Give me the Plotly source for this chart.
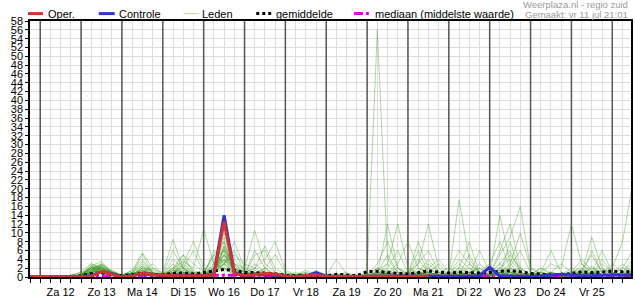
import plotly.graph_objects as go
import pandas as pd

# ---------------- data ----------------
start_time = "2025-07-11 18:00"
n_steps = 60  # 6-hourly steps
day_labels = ["Za 12", "Zo 13", "Ma 14", "Di 15", "Wo 16", "Do 17", "Vr 18",
              "Za 19", "Zo 20", "Ma 21", "Di 22", "Wo 23", "Do 24", "Vr 25"]
day_noons = pd.date_range("2025-07-12 12:00", periods=14, freq="D")
midnights = pd.date_range("2025-07-12 00:00", periods=15, freq="D")
x_range = ["2025-07-11 18:00", "2025-07-26 11:00"]
y_max = 58

oper = [0, 0, 0, 0, 0,
        0.1, 0.1, 1.3, 0.6,
        0, 0.2, 0.9, 0.5,
        0.4, 0.3, 0.2, 0.3,
        0.3, 0.5, 12.5, 0.8,
        0.3, 0.5, 0.8, 0.7,
        0.2, 0.1, 0.3, 0.5,
        0.1, 0.1, 0.2, 0.1,
        0.1, 0.2, 0.1, 0.1,
        0.1, 0.1, 0.1]

controle = [0, 0, 0, 0, 0,
            0.1, 0.3, 1.2, 0.8,
            0, 0.3, 0.8, 0.5,
            0.3, 0.3, 0.2, 0.3,
            0.3, 0.5, 14.0, 1.0,
            0.3, 0.5, 0.6, 0.5,
            0.2, 0.1, 0.2, 1.0,
            0.2, 0.1, 0.1, 0.1,
            0.1, 0.1, 0.1, 0.1,
            0.1, 0.1, 0.1, 0.1,
            0.1, 0.1, 0.1, 0.3,
            2.2, 0.2, 0.1, 0.1,
            0.1, 0.2, 0.4, 0.6,
            0.4, 0.3, 0.3, 0.4,
            0.5, 0.4, 0.5]

gemiddelde = [0, 0, 0, 0, 0.1,
              0.3, 0.8, 0.9, 0.5,
              0.3, 0.5, 0.9, 0.6,
              0.5, 0.8, 0.9, 0.7,
              1.0, 1.4, 1.7, 1.5,
              1.0, 1.0, 0.9, 0.7,
              0.4, 0.3, 0.4, 0.3,
              0.3, 0.6, 0.4, 0.3,
              1.2, 1.3, 1.0, 0.8,
              0.7, 1.0, 1.4, 1.1,
              0.9, 1.1, 1.0, 0.9,
              1.0, 1.3, 1.4, 1.2,
              0.8, 0.6, 0.5, 0.6,
              0.8, 1.2, 1.0, 1.1,
              1.3, 1.2, 1.2]

mediaan = [0, 0, 0, 0, 0,
           0, 0.1, 0.3, 0.1,
           0, 0.1, 0.2, 0.1,
           0.1, 0.2, 0.2, 0.1,
           0.1, 0.4, 0.4, 0.4,
           0.2, 0.2, 0.2, 0.1,
           0, 0, 0, 0,
           0, 0, 0, 0,
           0.1, 0.2, 0.2, 0.2,
           0.2, 0.2, 0.2, 0.2,
           0.2, 0.2, 0.2, 0.2,
           0.2, 0.3, 0.3, 0.2,
           0.1, 0.1, 0.1, 0.1,
           0.2, 0.2, 0.2, 0.2,
           0.2, 0.2, 0.2]

leden = [
    [0, 0, 0, 0, 0, 0.3, 1.5, 2.5, 1.0, 0.2, 0.8, 5.2, 1.0, 0.5, 2.0, 1.0, 0.3, 0.5, 1.0, 3.0, 0.8,
     0.3, 0.5, 0.2, 0, 0, 0, 0.5, 0.3, 0, 0, 0, 0, 0, 0.5, 1.0, 0.2, 0, 0.3, 2.0, 0.5,
     0.2, 1.5, 0.5, 0, 0.5, 3.0, 6.0, 1.0, 0.3, 0.5, 0.2, 0, 0, 1.0, 2.5, 0.5, 0.3, 0.8, 1.2],
    [0, 0, 0, 0, 0.3, 0.8, 2.0, 1.5, 0.5, 0, 0.3, 1.0, 0.5, 0.3, 0.8, 3.0, 1.0, 1.0, 4.0, 6.0, 1.5,
     0.5, 1.0, 0.5, 0.2, 0, 0.3, 0.2, 0, 0, 0.5, 0.3, 0, 1.0, 56.0, 4.0, 1.0, 0.5, 2.0, 1.0, 0.3,
     0, 0.5, 3.0, 1.0, 0.5, 1.5, 0.5, 0.2, 0, 0.3, 1.0, 0.5, 0.2, 0.5, 0.3, 1.5, 0.5, 2.0, 1.0],
    [0, 0, 0, 0, 0, 0.5, 3.0, 2.0, 0.8, 0.2, 1.0, 2.5, 0.5, 1.0, 8.5, 2.0, 0.5, 0.3, 2.0, 8.0, 2.0,
     0.5, 0.3, 0.2, 0, 0, 0, 0, 0.2, 0.3, 0.5, 0.2, 0, 0, 1.5, 3.0, 0.5, 0.3, 1.0, 0.5, 0,
     0.5, 17.5, 4.0, 1.0, 0.3, 1.0, 2.0, 0.5, 0.2, 0.5, 0.3, 0, 0.5, 1.5, 5.0, 1.0, 0.3, 0.5, 0.8],
    [0, 0, 0, 0, 0, 0.2, 2.5, 3.5, 1.0, 0.3, 0.5, 1.5, 0.5, 0.2, 1.5, 0.8, 0.3, 0.5, 3.0, 10.0, 3.0,
     1.0, 2.0, 1.0, 0.3, 0.2, 0.5, 1.0, 0.5, 0, 0, 0.3, 0.5, 0.3, 2.0, 1.0, 0.3, 0, 0.5, 0.3, 0,
     0.2, 0.5, 1.0, 2.0, 0.5, 5.0, 9.0, 16.0, 2.0, 0.5, 0.3, 0, 0.3, 0.5, 1.0, 0.5, 0.2, 0.3, 0.5],
    [0, 0, 0, 0, 0.5, 1.0, 2.0, 1.0, 0.3, 0.5, 1.5, 5.5, 2.0, 0.5, 1.0, 0.5, 0.2, 0.3, 1.5, 4.0, 1.0,
     0.5, 0.3, 0, 0, 0, 0.3, 0.5, 0.3, 0.2, 0.3, 0, 0, 0.5, 0.8, 1.5, 0.5, 0.2, 0.3, 0.5, 1.0,
     0.3, 2.0, 1.0, 0.3, 0.5, 1.0, 0.5, 0.3, 0.5, 1.0, 3.0, 2.0, 12.0, 3.0, 1.0, 0.5, 0.3, 0.5, 0.3],
    [0, 0, 0, 0, 0, 0, 1.0, 2.0, 0.5, 0, 0.3, 0.8, 0.3, 0.5, 2.0, 3.5, 2.0, 10.8, 3.0, 2.0, 0.5,
     0.3, 0.5, 0.2, 0, 0, 0, 0.2, 0, 0, 0, 0.5, 0.3, 0, 0.5, 12.0, 2.0, 0.5, 1.0, 0.5, 0.3,
     0.2, 0.5, 0.3, 0.5, 0.3, 0.5, 1.0, 0.5, 0.2, 0.3, 0.5, 0.2, 0.3, 0.5, 2.0, 1.0, 2.0, 8.0, 21.0],
    [0, 0, 0, 0, 0, 0.3, 1.5, 3.0, 1.5, 0.3, 0.5, 1.0, 0.5, 0.3, 0.5, 1.5, 0.8, 0.5, 2.0, 5.0, 3.0,
     2.0, 10.5, 3.0, 1.0, 0.3, 0.2, 0, 0, 0, 0.2, 0.3, 0, 0.2, 1.0, 0.5, 0.2, 0.5, 3.0, 12.0, 2.0,
     0.5, 0.3, 0.2, 0.5, 1.0, 3.0, 1.0, 0.3, 0, 0.2, 0.5, 0.3, 0.2, 0.5, 1.0, 0.5, 0.3, 0.5, 0.5],
    [0, 0, 0, 0, 0, 0.5, 2.0, 1.0, 0.3, 0, 0.5, 2.0, 1.5, 0.5, 1.0, 3.0, 8.0, 2.0, 1.0, 3.0, 5.0,
     3.0, 2.0, 4.0, 8.0, 1.5, 0.5, 0.3, 0, 0, 0, 0, 0.3, 0.5, 0.3, 0.8, 0.5, 0.3, 0.5, 1.0, 0.3,
     0.5, 1.0, 0.5, 3.0, 1.0, 0.5, 2.0, 1.0, 0.3, 0.5, 0.3, 0.2, 0.5, 1.0, 9.0, 2.0, 0.5, 0.3, 0.5],
    [0, 0, 0, 0, 0, 0.2, 1.0, 1.5, 0.5, 0.3, 1.0, 3.0, 1.0, 0.3, 0.8, 0.5, 0.3, 0.5, 1.0, 7.0, 1.5,
     0.5, 1.0, 0.5, 0.2, 0, 0.5, 0.3, 0, 0, 0.3, 0, 0, 0.3, 0.5, 3.0, 12.0, 2.0, 1.0, 0.5, 0.3,
     0.2, 0.5, 1.0, 2.0, 0.5, 14.0, 3.0, 0.5, 0.3, 0.5, 0.3, 0, 0.2, 0.5, 0.3, 0.5, 0.5, 1.0, 3.0],
    [0, 0, 0, 0, 0, 0.3, 2.0, 2.5, 1.0, 0.5, 1.0, 0.5, 0.3, 0.5, 6.0, 2.0, 0.5, 0.3, 1.5, 9.0, 2.5,
     1.0, 0.5, 0.3, 0, 0, 0, 0.2, 0.5, 0.3, 4.0, 0.5, 0, 0, 0.3, 0.5, 1.0, 0.5, 8.0, 2.0, 0.5,
     0.3, 0.5, 2.0, 0.5, 0.3, 1.0, 0.5, 0.5, 0.3, 0.5, 1.0, 0.3, 0.5, 0.8, 0.5, 0.3, 0.3, 0.5, 1.0],
    [0, 0, 0, 0, 0, 0.5, 1.5, 2.0, 0.8, 0.2, 0.3, 1.0, 0.5, 0.2, 0.5, 1.0, 0.5, 1.0, 5.0, 8.0, 1.0,
     0.5, 3.0, 1.0, 0.3, 0.5, 1.0, 0.5, 0, 0, 0, 0.2, 0, 0.2, 0.5, 0.3, 0.5, 1.0, 0.5, 0.3, 0.5,
     1.0, 0.5, 0.5, 0.3, 0.2, 1.0, 2.5, 6.0, 1.0, 0.5, 0.3, 0.2, 0.5, 3.0, 1.0, 6.0, 1.0, 0.5, 0.5],
    [0, 0, 0, 0, 0, 0.2, 0.8, 1.0, 0.5, 0.2, 0.5, 2.5, 1.0, 0.3, 4.0, 2.0, 1.0, 0.5, 2.5, 12.0, 4.0,
     1.5, 0.5, 0.3, 0.3, 0.2, 0.3, 0.5, 0.2, 0, 0, 0, 0.2, 0.5, 1.0, 5.0, 1.0, 0.3, 0.5, 1.0, 0.5,
     0.2, 0.3, 0.5, 1.0, 0.5, 0.5, 1.5, 0.3, 0.2, 0.5, 0.5, 0.3, 1.0, 4.0, 1.5, 0.5, 0.3, 0.5, 0.5],
    [0, 0, 0, 0, 0, 0.3, 1.0, 1.8, 0.5, 0, 0.2, 0.5, 0.3, 0.3, 1.0, 2.0, 6.0, 1.0, 0.5, 4.0, 1.5,
     0.5, 0.3, 1.5, 0.5, 0.3, 0.5, 0.3, 0, 0, 0.2, 0, 0, 0, 0.3, 0.5, 0.3, 0.2, 0.5, 3.0, 1.0,
     0.5, 2.0, 8.0, 1.0, 0.3, 2.0, 1.0, 0.5, 0.2, 0.3, 0.2, 0, 0.3, 0.5, 0.3, 0.2, 0.5, 1.0, 4.0],
    [0, 0, 0, 0, 0.3, 1.2, 3.0, 2.0, 0.5, 0.2, 0.5, 1.0, 0.5, 0.5, 0.8, 0.3, 0.2, 0.3, 1.0, 6.0, 1.0,
     0.5, 0.3, 0.5, 0.2, 0, 0, 0.3, 0.5, 0.2, 0, 0, 0, 0.3, 0.5, 0.3, 0.2, 0.5, 1.0, 0.5, 0.2,
     0.3, 0.5, 0.3, 0.5, 0.3, 0.5, 0.3, 0.2, 0.5, 2.0, 0.5, 0.3, 0.5, 1.0, 0.5, 0.3, 0.3, 0.5, 0.3],
    [0, 0, 0, 0, 0, 0.5, 2.0, 3.0, 1.0, 0.3, 0.5, 1.0, 0.5, 0.3, 0.5, 1.0, 0.5, 0.5, 3.0, 2.0, 0.5,
     0.3, 0.5, 0.3, 0.2, 0, 0.5, 1.0, 0.3, 0, 0, 0, 0, 0.2, 0.5, 1.0, 0.3, 0.5, 4.0, 1.0, 0.5,
     0.3, 0.5, 0.3, 0.2, 0.5, 6.0, 12.0, 2.0, 0.5, 0.3, 0.2, 0.3, 0.5, 0.3, 0.5, 2.0, 0.5, 0.3, 0.5],
    [0, 0, 0, 0, 0, 0.2, 1.0, 2.0, 1.0, 0.3, 1.5, 4.0, 1.0, 0.3, 1.0, 2.0, 0.5, 0.3, 2.0, 5.0, 1.5,
     0.5, 1.0, 0.5, 0.3, 0.2, 0, 0, 0, 0, 0.3, 0, 0, 0.3, 1.0, 0.5, 0.3, 0.3, 0.5, 0.3, 0.5,
     0.5, 3.0, 1.0, 0.3, 0.5, 1.0, 0.5, 0.5, 0.3, 0.5, 1.0, 0.5, 0.3, 0.5, 0.3, 0.5, 3.0, 1.0, 0.5],
    [0, 0, 0, 0, 0, 0.3, 1.5, 1.0, 0.3, 0.2, 0.3, 0.5, 0.3, 0.5, 1.5, 5.0, 1.0, 0.5, 1.0, 4.0, 0.5,
     0.3, 5.0, 6.0, 1.0, 0.5, 0.3, 0.2, 0, 0, 0, 0, 0, 0, 0.3, 0.2, 0.5, 0.3, 0.5, 1.0, 0.5,
     0.3, 0.5, 0.3, 0.2, 0.3, 0.5, 8.0, 1.0, 0.5, 1.0, 0.5, 0.2, 0.3, 0.5, 0.3, 0.5, 0.5, 0.3, 0.5],
    [0, 0, 0, 0, 0, 0.5, 2.5, 1.5, 0.5, 0.3, 0.5, 2.0, 0.5, 0.3, 0.5, 0.8, 0.3, 0.5, 1.5, 3.0, 6.0,
     1.0, 0.5, 0.3, 0, 0, 0.2, 0.5, 0.3, 0.2, 0.5, 0.3, 0, 0.3, 0.5, 0.3, 0.5, 0.2, 0.3, 0.5, 0.3,
     0.5, 1.0, 0.5, 0.3, 0.2, 0.3, 0.5, 0.3, 0.5, 1.0, 0.5, 0.3, 0.2, 0.5, 0.5, 0.3, 0.5, 2.0, 6.0],
    [0, 0, 0, 0, 0, 0, 0.8, 2.0, 1.5, 0.3, 0.5, 1.0, 3.0, 0.5, 1.0, 0.5, 0.3, 0.3, 0.5, 7.0, 2.0,
     0.5, 0.3, 0.5, 0.3, 0.2, 0.5, 0.3, 0.2, 0, 0, 0.5, 0, 0.3, 0.5, 0.5, 0.3, 0.5, 1.0, 0.5, 0.3,
     0.3, 0.5, 1.0, 0.5, 0.3, 1.0, 0.5, 0.3, 0.3, 0.5, 0.3, 0.2, 0.3, 0.5, 0.8, 0.5, 0.5, 0.3, 0.5],
    [0, 0, 0, 0, 0, 0.3, 1.2, 2.2, 0.8, 0.3, 0.5, 0.8, 0.5, 0.3, 0.5, 1.5, 0.5, 0.5, 2.0, 6.0, 3.0,
     1.0, 0.5, 0.3, 0.2, 0.3, 0.3, 0.2, 0, 0, 0, 0, 0, 0.5, 0.3, 0.8, 0.5, 0.3, 0.5, 0.3, 0.5,
     0.3, 0.5, 0.3, 0.5, 0.5, 0.5, 1.0, 0.5, 0.2, 0.5, 0.3, 0.5, 0.3, 0.5, 1.0, 0.5, 0.3, 0.5, 1.5],
    [0, 0, 0, 0, 0, 0.2, 1.0, 1.5, 0.5, 0.2, 0.5, 1.5, 0.8, 0.3, 3.0, 1.0, 0.5, 0.5, 2.0, 4.0, 2.0,
     0.5, 6.0, 2.0, 0.5, 0.3, 0.5, 0.2, 0, 0, 0.3, 0.5, 0.2, 0.3, 1.0, 2.0, 6.0, 1.0, 0.5, 2.0, 4.0,
     1.0, 0.5, 5.0, 1.0, 0.5, 2.0, 4.0, 1.0, 0.3, 0.5, 1.0, 3.0, 1.0, 0.5, 2.0, 0.5, 0.3, 1.0, 2.0],
    [0, 0, 0, 0, 0, 0.3, 1.8, 2.8, 1.2, 0.5, 1.0, 3.5, 1.0, 0.5, 1.0, 4.0, 1.5, 0.5, 1.0, 5.0, 1.0,
     0.5, 1.5, 0.5, 0.3, 0, 0, 0.3, 0.5, 0.3, 0.5, 1.0, 0.3, 0.5, 3.0, 8.0, 2.0, 1.0, 3.0, 6.0, 1.0,
     0.5, 4.0, 2.0, 1.0, 3.0, 8.0, 2.0, 0.5, 0.3, 0.5, 0.5, 0.3, 1.0, 2.0, 0.5, 3.0, 1.0, 0.5, 0.8],
    [0, 0, 0, 0, 0, 0.5, 2.2, 1.8, 0.6, 0.3, 0.8, 1.5, 0.5, 0.3, 2.0, 5.0, 3.0, 1.0, 5.0, 3.0, 1.0,
     0.5, 2.0, 7.0, 2.0, 0.5, 0.3, 0, 0, 0, 0, 0.2, 0, 0.2, 0.5, 1.0, 3.0, 8.0, 2.0, 1.0, 0.5,
     1.0, 6.0, 3.0, 1.0, 0.5, 1.0, 3.0, 10.0, 2.0, 1.0, 0.5, 0.3, 0.5, 1.5, 0.5, 0.3, 0.5, 1.0, 0.5],
    [0, 0, 0, 0, 0, 0.1, 1.2, 2.3, 0.9, 0.2, 0.5, 1.0, 2.0, 1.0, 0.5, 0.3, 0.5, 0.5, 6.0, 3.0, 8.0,
     2.0, 1.0, 0.5, 0.3, 0.2, 0.5, 1.5, 0.5, 0.3, 0.2, 0, 0, 0.5, 2.0, 0.5, 0.3, 0.5, 1.0, 4.0, 1.0,
     2.0, 1.0, 0.5, 6.0, 1.0, 0.5, 1.0, 2.0, 0.5, 1.0, 6.0, 1.0, 0.5, 0.3, 0.5, 4.0, 1.0, 0.5, 0.5],
    [0, 0, 0, 0, 0, 0.4, 2.0, 2.0, 0.8, 0.3, 0.5, 2.0, 0.8, 0.5, 1.5, 0.8, 0.5, 0.3, 1.0, 2.0, 1.0,
     0.5, 0.3, 2.0, 5.0, 1.0, 0.5, 0.3, 0.2, 0.2, 0.5, 0.3, 0, 0.3, 0.5, 1.5, 0.5, 0.3, 1.0, 0.5, 3.0,
     0.5, 0.3, 1.0, 0.5, 0.5, 2.0, 5.0, 2.0, 0.5, 0.3, 1.0, 0.5, 2.0, 0.5, 1.0, 0.5, 0.5, 3.0, 1.0],
    [0, 0, 0, 0, 0, 0.2, 1.5, 2.0, 1.0, 0.2, 0.5, 1.0, 0.5, 0.3, 1.0, 2.5, 1.0, 0.5, 1.5, 6.5, 2.0,
     1.0, 0.5, 0.3, 0.2, 0.2, 0.3, 0.2, 0.3, 0.2, 0.5, 0.3, 0.2, 0.5, 0.3, 1.0, 2.0, 0.5, 6.0, 1.0, 0.5,
     0.3, 1.0, 0.5, 0.3, 0.5, 1.0, 0.5, 0.3, 0.3, 2.0, 1.0, 0.5, 0.3, 0.5, 6.0, 1.0, 0.3, 0.5, 0.5],
    [0, 0, 0, 0, 0, 0.3, 2.5, 2.0, 0.5, 0.2, 0.3, 0.5, 0.3, 0.2, 0.5, 0.3, 0.2, 0.3, 0.8, 3.0, 1.0,
     0.5, 1.0, 0.8, 0.5, 0.3, 0.2, 0.3, 1.5, 0.5, 0.3, 0.2, 0.3, 0.2, 0.5, 0.3, 0.5, 0.3, 0.5, 0.3, 0.2,
     0.5, 0.3, 0.5, 0.3, 0.3, 0.5, 0.5, 0.3, 0.2, 0.3, 0.5, 0.2, 0.3, 0.5, 0.3, 0.5, 0.3, 0.5, 0.3],
    [0, 0, 0, 0, 0, 0.2, 1.0, 2.8, 1.2, 0.3, 0.8, 1.5, 0.5, 0.5, 0.8, 1.0, 0.5, 0.5, 1.0, 5.0, 2.0,
     0.5, 0.8, 2.0, 0.5, 0.3, 0.2, 0.3, 0.2, 0.2, 0.3, 0.5, 0.3, 0.5, 1.0, 0.5, 0.5, 0.5, 0.3, 0.8, 0.5,
     0.3, 0.5, 1.0, 0.5, 0.5, 1.5, 1.0, 0.5, 0.5, 0.3, 0.5, 0.3, 0.5, 1.0, 0.5, 0.5, 0.5, 0.3, 0.5],
]

for m in leden + [controle, gemiddelde, mediaan]:
    assert len(m) == n_steps, len(m)

# ---------------- figure ----------------
times = pd.date_range(start_time, periods=n_steps, freq="6h")
FONT = "Liberation Sans, Arial, sans-serif"

fig = go.Figure()

# day separators (midnight) as a line trace through the axes
sep_x, sep_y = [], []
for d in midnights:
    sep_x += [d, d, None]
    sep_y += [0, y_max, None]
fig.add_trace(go.Scatter(x=sep_x, y=sep_y, mode="lines", showlegend=False,
                         line=dict(color="#555555", width=1.5), hoverinfo="skip"))

for m in leden:
    fig.add_trace(go.Scatter(x=times, y=m, mode="lines", showlegend=False,
                             line=dict(color="rgba(60,155,30,0.40)", width=1),
                             hoverinfo="skip"))
fig.add_trace(go.Scatter(x=times, y=gemiddelde, mode="lines", showlegend=False,
                         line=dict(color="black", width=3, dash="dot")))
fig.add_trace(go.Scatter(x=times, y=mediaan, mode="lines", showlegend=False,
                         line=dict(color="#e000e0", width=3, dash="dashdot")))
fig.add_trace(go.Scatter(x=times, y=controle, mode="lines", showlegend=False,
                         line=dict(color="#3333cc", width=3)))
fig.add_trace(go.Scatter(x=times[:len(oper)], y=oper, mode="lines", showlegend=False,
                         line=dict(color="#d23232", width=3)))

# plot area in pixels
L, R, T, B = 30, 633, 21, 280


def pxx(x):
    return (x - L) / (R - L)


def pxy(y):
    return (B - y) / (B - T)


shapes = []
legend_items = [
    (28, 43, 47, "Oper.", "#d23232", 3, "solid"),
    (99, 115, 118, "Controle", "#3333cc", 3, "solid"),
    (184, 199, 202, "Leden", "#b8dcaa", 1, "solid"),
    (257, 272, 276, "gemiddelde", "black", 3, "dot"),
    (355, 370, 375, "mediaan (middelste waarde)", "#e000e0", 3, "dashdot"),
]
annotations = []
ly = 13.5
for x0, x1, tx, label, col, w, dash in legend_items:
    shapes.append(dict(type="line", xref="paper", yref="paper",
                       x0=pxx(x0), x1=pxx(x1), y0=pxy(ly), y1=pxy(ly),
                       line=dict(color=col, width=w, dash=dash)))
    annotations.append(dict(xref="paper", yref="paper", x=pxx(tx), y=pxy(ly + 0.5),
                            text=label, showarrow=False, xanchor="left", yanchor="middle",
                            font=dict(family=FONT, size=11, color="black"), borderpad=0))
annotations.append(dict(xref="paper", yref="paper", x=pxx(631), y=pxy(4.5),
                        text="Weerplaza.nl - regio zuid", showarrow=False,
                        xanchor="right", yanchor="middle", borderpad=0,
                        font=dict(family=FONT, size=9.5, color="#9a9a9a")))
annotations.append(dict(xref="paper", yref="paper", x=pxx(631), y=pxy(14.5),
                        text="Gemaakt: vr 11 jul 21:01", showarrow=False,
                        xanchor="right", yanchor="middle", borderpad=0,
                        font=dict(family=FONT, size=9.5, color="#9a9a9a")))

fig.update_layout(
    width=635, height=300,
    margin=dict(l=L, r=635 - R, t=T, b=300 - B, pad=0),
    plot_bgcolor="white", paper_bgcolor="white",
    font=dict(family=FONT, size=11, color="black"),
    shapes=shapes, annotations=annotations,
    showlegend=False,
    xaxis=dict(
        type="date", range=x_range,
        tickmode="array", tickvals=day_noons, ticktext=day_labels,
        ticks="outside", ticklen=4, tickcolor="black", tickwidth=1,
        showgrid=True, gridcolor="#dddddd", gridwidth=1,
        minor=dict(tickmode="linear", tick0=start_time, dtick=6 * 3600 * 1000,
                   ticks="outside", ticklen=4, tickcolor="black",
                   showgrid=True, gridcolor="#dddddd", gridwidth=1),
        showline=True, linecolor="black", linewidth=1.5, mirror=True,
        zeroline=False, tickfont=dict(size=11),
    ),
    yaxis=dict(
        range=[0, y_max], tickmode="linear", tick0=0, dtick=2,
        ticks="outside", ticklen=3, tickcolor="black",
        showgrid=True, gridcolor="#dddddd", gridwidth=1,
        showline=True, linecolor="black", linewidth=1.5, mirror=True,
        zeroline=False, tickfont=dict(size=11),
    ),
)

fig.write_html("out.html")
